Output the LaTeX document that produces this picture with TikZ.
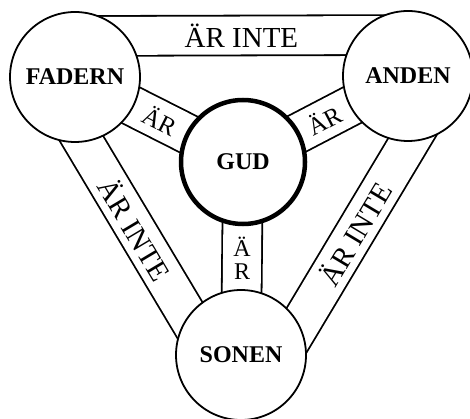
\documentclass[tikz,border=0pt]{standalone}
\usepackage{fontspec}
\setmainfont{Liberation Serif}
\usetikzlibrary{calc,backgrounds}
\tikzset{
  node-person/.style={draw,circle,line width=1.8pt,fill=white,minimum size=130pt,
    inner sep=0pt,font=\fontsize{24}{24}\selectfont\bfseries},
  node-god/.style={node-person,line width=4.5pt,minimum size=124pt},
  % band = dubbel linje, vit insida
  band/.style={double,line width=1.8pt,double distance=38pt},
  band-long/.style={midway,sloped,font=\fontsize{29}{29}\selectfont},
  band-short/.style={midway,sloped,font=\fontsize{25}{25}\selectfont},
}
\begin{document}
\begin{tikzpicture}[x=1pt,y=-1pt]
  \useasboundingbox (0,0) rectangle (470,419);
  \node[node-person] (fadern) at (75,77)   {FADERN};
  \node[node-person] (anden)  at (408,76)  {ANDEN};
  \node[node-god]    (gud)    at (243,162) {GUD};
  \node[node-person] (sonen)  at (241,355) {SONEN};
  \begin{scope}[on background layer]
    % yttre banden
    \draw[band] ($(fadern.center)!41pt!90:(anden.center)$) -- ($(anden.center)!41pt!-90:(fadern.center)$)
      node[band-long] {ÄR INTE};
    \draw[band] ($(fadern.center)!26pt!-90:(sonen.center)$) -- ($(sonen.center)!26pt!90:(fadern.center)$)
      node[band-long] {ÄR INTE};
    \draw[band] ($(anden.center)!35pt!90:(sonen.center)$) -- ($(sonen.center)!35pt!-90:(anden.center)$)
      node[band-long] {ÄR INTE};
    % inre banden
    \draw[band] (fadern.center) -- (gud.center) node[band-short,pos=0.51] {ÄR};
    \draw[band] (anden.center) -- (gud.center) node[band-short,pos=0.51] {ÄR};
    \draw[band] (gud.center) -- (sonen.center)
      node[midway,align=center,font=\fontsize{24}{23}\selectfont] {Ä\\R};
  \end{scope}
\end{tikzpicture}
\end{document}
